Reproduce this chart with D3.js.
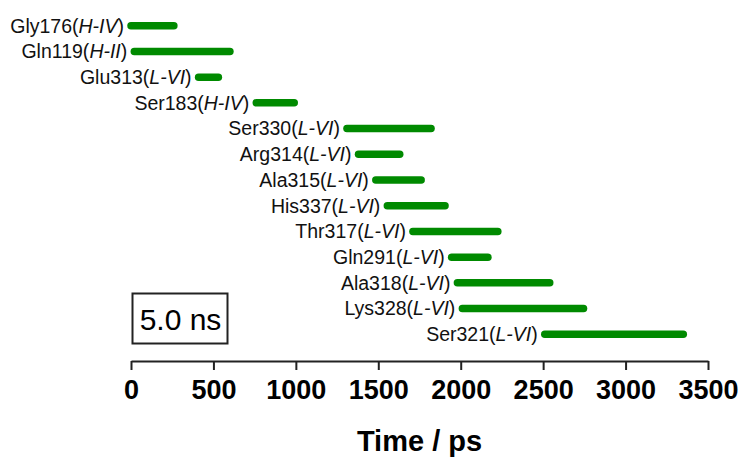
<!DOCTYPE html>
<html>
<head>
<meta charset="utf-8">
<script src="https://cdn.jsdelivr.net/npm/d3@7"></script>
<style>
  html, body { margin: 0; padding: 0; background: #fff; }
  svg { display: block; font-family: "Liberation Sans", Arial, Helvetica, sans-serif; }
</style>
</head>
<body>
<svg id="chart" width="744" height="457"></svg>
<script>
// Residue contact windows (ps) during the 5.0 ns trajectory
const residues = ["Gly176", "Gln119", "Glu313", "Ser183", "Ser330", "Arg314", "Ala315",
                  "His337", "Thr317", "Gln291", "Ala318", "Lys328", "Ser321"];
const regions  = ["H-IV", "H-II", "L-VI", "H-IV", "L-VI", "L-VI", "L-VI",
                  "L-VI", "L-VI", "L-VI", "L-VI", "L-VI", "L-VI"];
const startPs  = [0, 20, 410, 760, 1310, 1380, 1485, 1555, 1710, 1945, 1980, 2010, 2510];
const endPs    = [260, 600, 530, 990, 1820, 1630, 1760, 1905, 2225, 2165, 2540, 2745, 3350];
const tickValues = [0, 500, 1000, 1500, 2000, 2500, 3000, 3500];
const axisTitle = "Time / ps";
const boxLabel = "5.0 ns";

const svg = d3.select("#chart");
const rows = residues.map((r, i) => ({ name: r, region: regions[i], start: startPs[i], end: endPs[i] }));

const x = d3.scaleLinear().domain([0, 3500]).range([131, 708]);
const y = d3.scalePoint().domain(residues).range([25.7, 334.3]);

const green = "#008a00";

// Contact bars with rounded ends
svg.append("g").selectAll("line")
  .data(rows).join("line")
  .attr("x1", d => x(d.start))
  .attr("x2", d => x(d.end))
  .attr("y1", d => y(d.name))
  .attr("y2", d => y(d.name))
  .attr("stroke", green)
  .attr("stroke-width", 7.5)
  .attr("stroke-linecap", "round");

// Residue labels placed just left of each bar
const labels = svg.append("g").selectAll("text")
  .data(rows).join("text")
  .attr("x", d => x(d.start) - 7)
  .attr("y", d => y(d.name) + 6.8)
  .attr("text-anchor", "end")
  .attr("font-size", 19.5)
  .attr("fill", "#111");
labels.append("tspan").text(d => d.name + "(");
labels.append("tspan").attr("font-style", "italic").text(d => d.region);
labels.append("tspan").text(")");

// Time axis
const axis = d3.axisBottom(x).tickValues(tickValues).tickFormat(d3.format("d"))
  .tickSize(9).tickSizeOuter(0).tickPadding(5);
const gx = svg.append("g").attr("transform", "translate(0,361)").call(axis);
gx.select(".domain").attr("stroke", "#222").attr("stroke-width", 2);
gx.selectAll(".tick line").attr("stroke", "#222").attr("stroke-width", 2);
gx.selectAll(".tick text")
  .attr("font-family", "'Liberation Sans', Arial, sans-serif")
  .attr("font-weight", "bold")
  .attr("font-size", 27)
  .attr("fill", "#000")
  .attr("dy", null)
  .attr("y", 37.5);

svg.append("text")
  .attr("x", (x(0) + x(3500)) / 2)
  .attr("y", 451)
  .attr("text-anchor", "middle")
  .attr("font-weight", "bold")
  .attr("font-size", 29)
  .attr("fill", "#000")
  .text(axisTitle);

// Simulation length box
svg.append("rect")
  .attr("x", 132.5).attr("y", 293.5)
  .attr("width", 95).attr("height", 50)
  .attr("fill", "none")
  .attr("stroke", "#222")
  .attr("stroke-width", 2);
svg.append("text")
  .attr("x", 180.5).attr("y", 330)
  .attr("text-anchor", "middle")
  .attr("font-size", 30)
  .attr("fill", "#000")
  .text(boxLabel);
</script>
</body>
</html>
